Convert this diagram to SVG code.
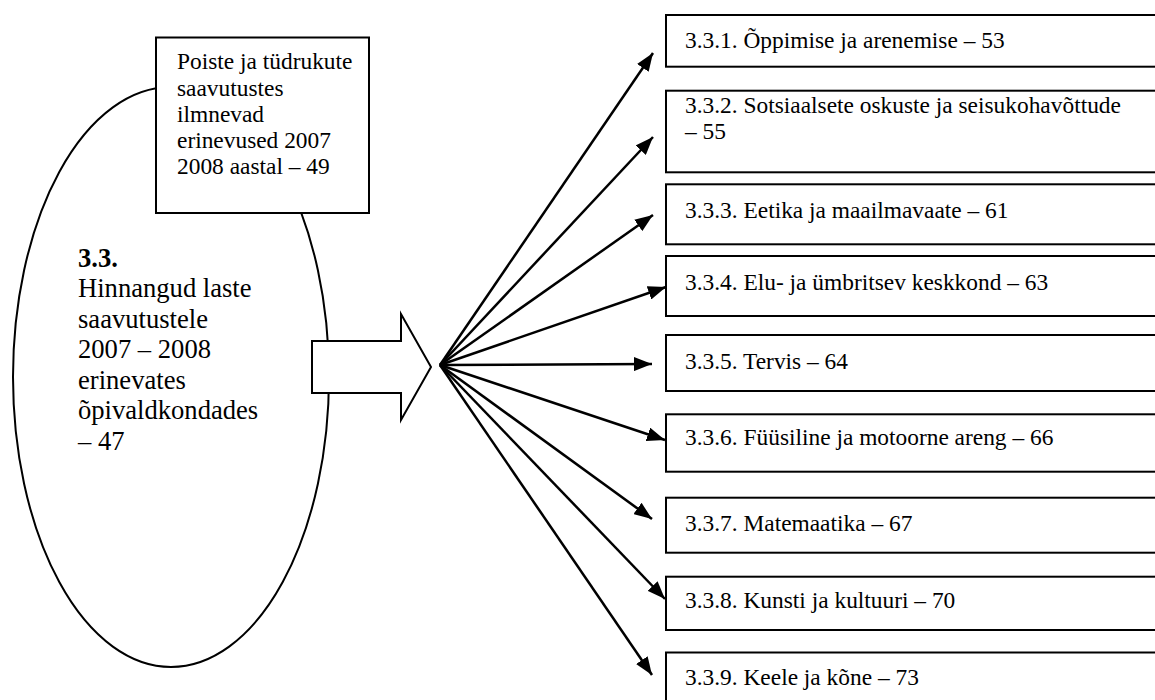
<svg xmlns="http://www.w3.org/2000/svg" width="1155" height="700" viewBox="0 0 1155 700">
  <style>
    .shape { fill: #ffffff; stroke: #000000; stroke-width: 2; }
    .t { font-family: "Liberation Serif", "Times New Roman", serif; font-size: 23.4px; fill: #000000; }
    .tm { font-family: "Liberation Serif", "Times New Roman", serif; font-size: 26.6px; fill: #000000; }
    .b { font-weight: bold; }
    .conn line { stroke: #000000; stroke-width: 2.5; marker-end: url(#ah); }
  </style>
  <defs>
    <marker id="ah" markerUnits="userSpaceOnUse" markerWidth="19" markerHeight="14" refX="18" refY="7" orient="auto">
      <path d="M0,0 L18,7 L0,14 z" fill="#000000"/>
    </marker>
  </defs>
  <rect width="1155" height="700" fill="#ffffff"/>

  <g id="main">
    <ellipse class="shape" cx="171" cy="377" rx="158" ry="290"/>
    <text class="tm b" x="78" y="267">3.3.</text>
    <text class="tm" x="78" y="297">Hinnangud laste</text>
    <text class="tm" x="78" y="328">saavutustele</text>
    <text class="tm" x="78" y="358">2007 – 2008</text>
    <text class="tm" x="78" y="389">erinevates</text>
    <text class="tm" x="78" y="419">õpivaldkondades</text>
    <text class="tm" x="78" y="450">– 47</text>
  </g>

  <g id="gender">
    <rect class="shape" x="156" y="37.5" width="213" height="175.5"/>
    <text class="t" x="177" y="69">Poiste ja tüdrukute</text>
    <text class="t" x="177" y="96">saavutustes</text>
    <text class="t" x="177" y="122">ilmnevad</text>
    <text class="t" x="177" y="148">erinevused 2007</text>
    <text class="t" x="177" y="174">2008 aastal – 49</text>
  </g>

  <g id="bigarrow">
    <polygon class="shape" points="312,341 401,341 401,314 431,367 401,420 401,393 312,393"/>
  </g>

  <g id="connectors" class="conn">
    <line x1="440" y1="365" x2="653" y2="53"/>
    <line x1="440" y1="365" x2="653" y2="137"/>
    <line x1="440" y1="365" x2="653" y2="215"/>
    <line x1="440" y1="365" x2="666" y2="287"/>
    <line x1="440" y1="365" x2="652" y2="364"/>
    <line x1="440" y1="365" x2="665" y2="440"/>
    <line x1="440" y1="365" x2="652" y2="519"/>
    <line x1="440" y1="365" x2="665" y2="599"/>
    <line x1="440" y1="365" x2="652" y2="675"/>
  </g>

  <g id="n331">
    <rect class="shape" x="666" y="15" width="500" height="51.7"/>
    <text class="t" x="685" y="48">3.3.1. Õppimise ja arenemise – 53</text>
  </g>
  <g id="n332">
    <rect class="shape" x="666" y="90.7" width="500" height="81.6"/>
    <text class="t" x="685" y="113">3.3.2. Sotsiaalsete oskuste ja seisukohavõttude</text>
    <text class="t" x="685" y="139">– 55</text>
  </g>
  <g id="n333">
    <rect class="shape" x="666" y="184.3" width="500" height="60"/>
    <text class="t" x="685" y="218">3.3.3. Eetika ja maailmavaate – 61</text>
  </g>
  <g id="n334">
    <rect class="shape" x="666" y="256" width="500" height="60"/>
    <text class="t" x="685" y="290">3.3.4. Elu- ja ümbritsev keskkond – 63</text>
  </g>
  <g id="n335">
    <rect class="shape" x="666" y="335" width="500" height="56"/>
    <text class="t" x="685" y="369">3.3.5. Tervis – 64</text>
  </g>
  <g id="n336">
    <rect class="shape" x="666" y="414.3" width="500" height="57.4"/>
    <text class="t" x="685" y="445">3.3.6. Füüsiline ja motoorne areng – 66</text>
  </g>
  <g id="n337">
    <rect class="shape" x="666" y="497.7" width="500" height="55"/>
    <text class="t" x="685" y="531">3.3.7. Matemaatika – 67</text>
  </g>
  <g id="n338">
    <rect class="shape" x="666" y="576.7" width="500" height="53.3"/>
    <text class="t" x="685" y="608">3.3.8. Kunsti ja kultuuri – 70</text>
  </g>
  <g id="n339">
    <rect class="shape" x="666" y="652.5" width="500" height="60"/>
    <text class="t" x="685" y="685">3.3.9. Keele ja kõne – 73</text>
  </g>
</svg>
